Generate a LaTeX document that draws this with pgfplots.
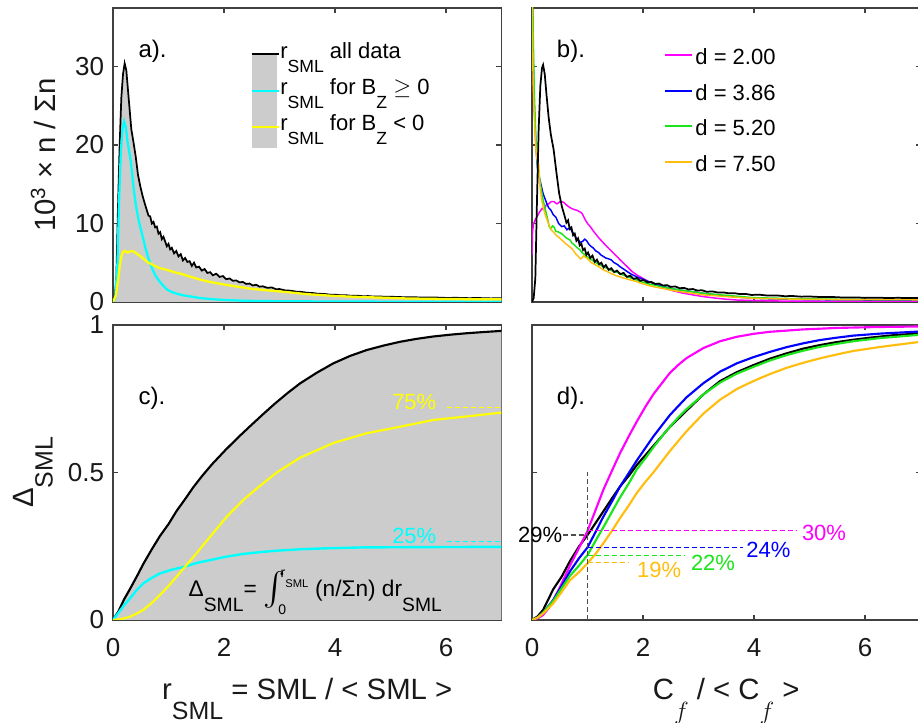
\documentclass[border=0pt]{standalone}
\usepackage{fontspec}
\setmainfont{Liberation Sans}
\usepackage{amsmath}
\usepackage{exscale}
\usepackage{graphicx}
\usepackage{pgfplots}
\usepackage{pgfplotstable}
\pgfplotsset{compat=1.18}

\definecolor{fillgray}{gray}{0.8}
\definecolor{myyellow}{rgb}{1,1,0}
\definecolor{mycyan}{rgb}{0,1,1}
\definecolor{mymag}{rgb}{1,0,1}
\definecolor{myblue}{rgb}{0,0,1}
\definecolor{mygreen}{rgb}{0.1,0.9,0.1}
\definecolor{mygold}{rgb}{1,0.74,0.05}

\newcommand{\fs}[1]{\fontsize{#1}{#1}\selectfont}
\newcommand{\sub}[2][0.75]{\raisebox{-0.66em}{\scalebox{#1}{#2}}}

% ---------- panel a) ----------
\pgfplotstableread{
x y
0 0
0.03 0.5
0.06 3
0.09 12
0.12 20
0.15 26
0.18 29
0.21 30.4
0.24 29.5
0.27 27
0.30 24.5
0.33 22
0.37 20.3
0.41 18.5
0.45 16.2
0.49 14.8
0.53 13.6
0.57 12.6
0.60 11.9
0.64 11.0
0.67 10.9
0.70 10.0
0.73 10.2
0.76 9.5
0.79 9.6
0.82 8.7
0.85 8.9
0.88 8.0
0.91 8.3
0.94 7.7
0.97 7.1
1.00 7.4
1.03 6.7
1.06 6.9
1.10 6.2
1.14 6.5
1.18 5.8
1.22 6.1
1.26 5.3
1.30 5.6
1.34 5.1
1.38 5.2
1.42 4.6
1.46 5.0
1.50 4.4
1.55 4.5
1.60 4.0
1.65 4.2
1.70 3.7
1.75 3.8
1.80 3.4
1.86 3.6
1.92 3.2
1.98 3.3
2.04 2.9
2.10 3.0
2.16 2.7
2.22 2.75
2.28 2.5
2.34 2.55
2.40 2.3
2.46 2.35
2.52 2.1
2.58 2.2
2.64 1.95
2.70 2.0
2.78 1.8
2.86 1.85
2.94 1.62
3.00 1.65
3.1 1.48
3.2 1.44
3.3 1.32
3.4 1.28
3.5 1.17
3.6 1.14
3.7 1.04
3.8 1.03
3.9 0.94
4.0 0.93
4.1 0.86
4.2 0.86
4.3 0.79
4.4 0.8
4.5 0.74
4.6 0.75
4.7 0.69
4.8 0.71
4.9 0.66
5.0 0.67
5.2 0.62
5.4 0.61
5.6 0.56
5.8 0.57
6.0 0.52
6.2 0.53
6.4 0.49
6.6 0.5
6.8 0.46
7.0 0.47
}\blackA

\pgfplotstableread{
x y
0 0
0.04 0.5
0.08 5
0.11 13
0.14 19
0.17 22
0.20 23.0
0.23 22.3
0.26 20.5
0.29 19.2
0.32 18.0
0.35 16.0
0.38 14.0
0.42 12.0
0.46 10.5
0.50 9.3
0.54 8.2
0.58 7.0
0.62 6.0
0.67 4.9
0.72 4.0
0.77 3.3
0.82 2.8
0.90 2.1
0.97 1.6
1.05 1.3
1.15 1.05
1.27 0.85
1.4 0.7
1.57 0.5
1.8 0.35
2.02 0.25
2.4 0.15
3 0.1
4 0.06
5 0.04
7 0.02
}\cyanA

\pgfplotstableread{
x y
0 0
0.05 0.8
0.09 2.8
0.12 4.5
0.15 5.8
0.18 6.4
0.22 6.5
0.26 6.3
0.30 6.4
0.34 6.5
0.38 6.4
0.42 6.2
0.48 5.9
0.55 5.5
0.62 5.1
0.67 4.9
0.75 4.6
0.85 4.3
0.97 4.1
1.1 3.8
1.27 3.5
1.4 3.2
1.57 2.85
1.75 2.55
2.02 2.2
2.25 1.95
2.47 1.7
2.75 1.5
3.07 1.3
3.5 1.0
3.97 0.78
4.4 0.65
4.87 0.55
5.3 0.45
5.77 0.4
6.4 0.36
7.0 0.34
}\yellowA

% ---------- panel b) ----------
\pgfplotstableread{
x y
0 0
0.03 0.5
0.06 3
0.09 13
0.12 22
0.15 27.5
0.18 29.8
0.20 30.2
0.23 29
0.26 26.5
0.30 23.5
0.34 21.3
0.39 19.4
0.44 16.5
0.49 13.8
0.54 12.1
0.59 10.9
0.62 10.1
0.65 10.4
0.68 9.3
0.71 9.5
0.74 8.5
0.77 8.7
0.80 7.8
0.83 8.1
0.86 7.2
0.89 7.4
0.92 6.6
0.95 6.8
0.98 6.0
1.01 6.3
1.05 5.6
1.09 5.9
1.13 5.1
1.17 5.4
1.21 4.8
1.25 5.0
1.29 4.4
1.33 4.7
1.38 4.1
1.43 4.3
1.48 3.8
1.53 4.0
1.59 3.55
1.65 3.7
1.71 3.2
1.77 3.35
1.83 2.95
1.89 3.05
1.95 2.7
2.01 2.8
2.08 2.5
2.15 2.55
2.22 2.3
2.29 2.35
2.36 2.1
2.43 2.15
2.50 1.92
2.58 1.98
2.66 1.75
2.74 1.8
2.82 1.6
2.9 1.65
2.98 1.45
3.06 1.5
3.15 1.3
3.25 1.35
3.35 1.2
3.45 1.22
3.55 1.1
3.65 1.12
3.75 1.0
3.85 1.03
3.95 0.9
4.1 0.92
4.25 0.82
4.4 0.84
4.55 0.74
4.7 0.76
4.85 0.68
5.0 0.7
5.2 0.63
5.4 0.64
5.6 0.57
5.8 0.58
6.0 0.54
6.2 0.55
6.4 0.51
6.6 0.53
6.8 0.5
7.0 0.51
}\blackB

\pgfplotstableread{
x y
0 6
0.01 9
0.03 10
0.06 10.5
0.1 11
0.14 11.5
0.18 11.9
0.22 11.8
0.26 12.4
0.30 12.5
0.35 12.8
0.39 12.8
0.45 12.5
0.51 12.8
0.57 12.7
0.63 12.3
0.69 12.0
0.75 11.8
0.80 11.7
0.86 11.5
0.90 11.3
0.95 10.6
1.0 10.0
1.05 9.6
1.12 8.9
1.2 8.2
1.29 7.5
1.4 6.7
1.5 6.0
1.59 5.35
1.7 4.6
1.8 3.9
1.89 3.44
2.0 3.0
2.1 2.6
2.19 2.38
2.3 2.0
2.4 1.75
2.49 1.53
2.7 1.15
2.9 0.9
3.09 0.68
3.3 0.5
3.5 0.35
3.69 0.25
4 0.18
4.5 0.12
5 0.1
6 0.08
7 0.06
}\magB

\pgfplotstableread{
x y
0 45
0.02 32
0.04 25
0.07 20
0.1 17
0.144 15.5
0.2 13.8
0.264 12.6
0.3 12.0
0.34 11.7
0.385 11.1
0.43 10.8
0.48 10.0
0.535 9.6
0.58 9.7
0.63 9.2
0.685 9.5
0.72 9.0
0.76 8.6
0.8 8.1
0.835 7.9
0.87 7.6
0.91 7.7
0.95 8.0
0.985 7.8
1.02 7.4
1.06 7.1
1.1 6.9
1.15 6.5
1.2 6.3
1.24 6.0
1.285 5.8
1.33 5.6
1.38 5.5
1.43 5.35
1.48 5.0
1.535 4.8
1.585 4.5
1.65 4.2
1.73 3.8
1.8 3.5
1.886 3.2
1.96 3.0
2.03 2.8
2.1 2.6
2.186 2.38
2.26 2.2
2.33 2.05
2.41 1.9
2.486 1.74
2.6 1.6
2.7 1.48
2.8 1.4
2.95 1.25
3.09 1.1
3.3 0.92
3.5 0.75
3.75 0.6
3.99 0.47
4.3 0.4
4.6 0.35
5 0.3
5.5 0.27
6 0.25
6.5 0.23
7 0.22
}\blueB

\pgfplotstableread{
x y
0 50
0.02 35
0.04 27
0.07 21
0.1 17.5
0.144 15.3
0.2 13.0
0.24 11.8
0.28 10.6
0.31 9.6
0.34 9.3
0.37 9.7
0.4 9.5
0.43 9.0
0.48 8.9
0.535 8.7
0.58 8.4
0.63 8.1
0.685 7.9
0.72 7.5
0.76 7.3
0.8 7.0
0.835 6.8
0.87 6.6
0.9 6.3
0.94 6.1
0.985 5.8
1.05 5.5
1.13 5.1
1.2 4.8
1.285 4.5
1.35 4.3
1.43 4.0
1.5 3.85
1.585 3.65
1.65 3.4
1.73 3.2
1.8 3.0
1.886 2.8
1.96 2.6
2.03 2.45
2.1 2.3
2.186 2.17
2.26 2.05
2.33 1.95
2.41 1.85
2.486 1.74
2.6 1.6
2.7 1.5
2.8 1.4
2.95 1.25
3.09 1.1
3.3 0.97
3.5 0.85
3.75 0.7
3.99 0.55
4.3 0.5
4.6 0.45
4.89 0.4
5.2 0.38
5.5 0.35
6 0.32
6.5 0.3
7 0.3
}\greenB

\pgfplotstableread{
x y
0 40
0.02 28
0.05 22
0.08 18.5
0.1 18.0
0.12 17.7
0.144 14.7
0.17 13.2
0.2 12.1
0.23 11.3
0.26 10.7
0.29 10.1
0.32 9.6
0.36 9.1
0.4 8.8
0.45 8.4
0.49 8.2
0.535 7.9
0.58 7.6
0.63 7.3
0.685 7.0
0.72 6.8
0.75 6.5
0.79 6.1
0.835 5.8
0.87 5.5
0.9 5.6
0.93 5.9
0.96 5.7
0.985 5.6
1.03 5.3
1.07 5.0
1.1 4.9
1.15 4.7
1.2 4.5
1.285 4.1
1.35 3.9
1.43 3.6
1.5 3.4
1.585 3.2
1.65 3.05
1.73 2.9
1.8 2.75
1.886 2.6
1.96 2.4
2.03 2.25
2.1 2.1
2.186 1.95
2.26 1.85
2.33 1.75
2.41 1.65
2.486 1.53
2.6 1.4
2.7 1.3
2.8 1.2
2.95 1.05
3.09 0.9
3.3 0.8
3.5 0.68
3.75 0.57
3.99 0.47
4.3 0.42
4.6 0.38
5 0.33
5.5 0.31
6 0.3
6.5 0.29
7 0.28
}\goldB

% ---------- panel c) ----------
\pgfplotstableread{
x y
0 0
0.1 0.03
0.2 0.07
0.306 0.105
0.45 0.155
0.546 0.19
0.7 0.24
0.847 0.285
1.0 0.325
1.147 0.37
1.3 0.41
1.447 0.45
1.6 0.487
1.78 0.527
2.02 0.575
2.25 0.618
2.47 0.657
2.7 0.697
2.92 0.734
3.15 0.77
3.37 0.802
3.67 0.838
3.97 0.870
4.27 0.895
4.57 0.915
4.87 0.930
5.17 0.943
5.47 0.953
5.77 0.961
6.07 0.967
6.37 0.972
6.67 0.976
7.0 0.98
}\blackC

\pgfplotstableread{
x y
0 0
0.1 0.025
0.2 0.05
0.306 0.073
0.42 0.1
0.546 0.124
0.7 0.143
0.847 0.158
1.05 0.17
1.3 0.181
1.5 0.193
1.748 0.203
2.05 0.215
2.348 0.224
2.65 0.23
2.95 0.235
3.4 0.24
3.85 0.243
4.5 0.246
5.5 0.247
7 0.248
}\cyanC

\pgfplotstableread{
x y
0 0
0.15 0.003
0.306 0.011
0.45 0.024
0.546 0.034
0.7 0.058
0.847 0.085
1.0 0.115
1.147 0.147
1.3 0.181
1.5 0.225
1.748 0.282
2.05 0.35
2.348 0.407
2.65 0.455
2.95 0.50
3.37 0.55
3.97 0.60
4.57 0.633
5.17 0.655
5.77 0.678
6.37 0.69
7.0 0.703
}\yellowC

% ---------- panel d) ----------
\pgfplotstableread{
x y
0 0
0.1 0.012
0.2 0.034
0.385 0.105
0.535 0.147
0.685 0.20
0.85 0.25
1.0 0.288
1.15 0.33
1.285 0.368
1.45 0.415
1.585 0.452
1.75 0.49
1.886 0.525
2.05 0.56
2.186 0.59
2.35 0.625
2.486 0.655
2.65 0.685
2.786 0.71
3.09 0.765
3.39 0.81
3.69 0.84
3.99 0.864
4.29 0.886
4.59 0.904
4.89 0.92
5.19 0.932
5.49 0.942
5.79 0.95
6.09 0.957
6.49 0.965
7 0.972
}\blackD

\pgfplotstableread{
x y
0 0
0.1 0.005
0.2 0.017
0.3 0.04
0.385 0.068
0.5 0.11
0.6 0.15
0.685 0.185
0.85 0.245
1.0 0.302
1.15 0.375
1.285 0.441
1.45 0.51
1.585 0.565
1.75 0.625
1.886 0.672
2.05 0.725
2.186 0.765
2.35 0.805
2.486 0.838
2.65 0.867
2.786 0.888
3.09 0.922
3.39 0.945
3.69 0.96
3.99 0.97
4.29 0.977
4.89 0.985
5.49 0.99
6.2 0.993
7 0.995
}\magD

\pgfplotstableread{
x y
0 0
0.1 0.008
0.2 0.025
0.385 0.068
0.535 0.115
0.685 0.165
0.85 0.21
1.0 0.246
1.15 0.3
1.285 0.35
1.45 0.405
1.585 0.452
1.75 0.5
1.886 0.54
2.05 0.585
2.186 0.622
2.35 0.662
2.486 0.695
2.65 0.728
2.786 0.755
3.09 0.803
3.39 0.842
3.69 0.87
3.99 0.891
4.29 0.909
4.59 0.925
4.89 0.938
5.19 0.949
5.49 0.957
5.79 0.964
6.29 0.971
7 0.978
}\blueD

\pgfplotstableread{
x y
0 0
0.1 0.008
0.2 0.025
0.385 0.065
0.535 0.108
0.685 0.15
0.85 0.185
1.0 0.22
1.15 0.27
1.285 0.314
1.45 0.37
1.585 0.415
1.75 0.465
1.886 0.51
2.05 0.55
2.186 0.585
2.35 0.625
2.486 0.655
2.65 0.69
2.786 0.715
3.09 0.765
3.39 0.805
3.69 0.835
3.99 0.858
4.29 0.88
4.59 0.898
4.89 0.913
5.19 0.926
5.49 0.936
5.79 0.945
6.29 0.956
7 0.967
}\greenD

\pgfplotstableread{
x y
0 0
0.1 0.008
0.2 0.022
0.385 0.057
0.535 0.095
0.685 0.135
0.85 0.163
1.0 0.192
1.15 0.225
1.285 0.26
1.45 0.305
1.585 0.345
1.75 0.39
1.886 0.43
2.05 0.47
2.186 0.5
2.35 0.54
2.486 0.573
2.65 0.61
2.786 0.64
3.09 0.70
3.39 0.747
3.69 0.783
3.99 0.81
4.29 0.834
4.59 0.855
4.89 0.872
5.19 0.887
5.49 0.9
5.79 0.912
6.29 0.926
7 0.943
}\goldD

\pgfplotsset{
  panel/.style={
    scale only axis, width=291.375pt,
    xmin=0, xmax=7, xtick={0,2,4,6},
    axis line style={black!75, line width=0.9pt},
    tick style={black!75, line width=0.9pt},
    major tick length=3.75pt,
    tick align=inside,
    tick label style={font=\fs{19.5pt}, text=black!90},
    /pgf/number format/assume math mode=true,
    xticklabel style={yshift=-10.5pt},
    yticklabel style={xshift=-3.2pt, inner ysep=0pt},
    clip mode=individual,
    label style={font=\fs{22pt}, text=black!90},
  },
  dsh/.style={line width=0.8pt, dash pattern=on 3.75pt off 2.25pt},
}

\begin{document}
\begin{tikzpicture}

% ===== a) =====
\begin{axis}[panel, at={(84.75pt,315.75pt)}, height=220.5pt,
  ymin=0, ymax=37.45, ytick={0,10,20,30}, xticklabel=\empty,
  ylabel={10$^{\text{3}}$ × n / Σn},
  ylabel style={at={(axis description cs:-0.149,0.5)}, anchor=base}]
\addplot[fill=fillgray, draw=none] table[x=x,y=y] {\blackA} \closedcycle;
\addplot[black, line width=1.3pt] table[x=x,y=y] {\blackA};
\addplot[mycyan, line width=1.7pt] table[x=x,y=y] {\cyanA};
\addplot[myyellow, line width=1.7pt] table[x=x,y=y] {\yellowA};
\node[anchor=base west, inner sep=0, font=\fs{18pt}] at (axis cs:0.456,31.2) {a).};
\fill[fillgray] (axis cs:2.499,19.58) rectangle (axis cs:2.95,31.68);
\draw[black, line width=1.2pt] (axis cs:2.499,31.6) -- (axis cs:3.0,31.6);
\draw[mycyan, line width=1.7pt] (axis cs:2.499,26.92) -- (axis cs:3.0,26.92);
\draw[myyellow, line width=1.7pt] (axis cs:2.499,22.33) -- (axis cs:3.0,22.33);
\node[anchor=base west, inner sep=0, font=\fs{16.5pt}] at (axis cs:3.01,31.04) {r\sub[0.8]{SML} all data};
\node[anchor=base west, inner sep=0, font=\fs{16.5pt}] at (axis cs:3.01,26.45) {r\sub[0.8]{SML} for B\sub[0.8]{Z} $\geq$ 0};
\node[anchor=base west, inner sep=0, font=\fs{16.5pt}] at (axis cs:3.01,21.87) {r\sub[0.8]{SML} for B\sub[0.8]{Z} < 0};
\end{axis}

% ===== b) =====
\begin{axis}[panel, at={(399pt,315.75pt)}, height=220.5pt,
  ymin=0, ymax=37.45, ytick={0,10,20,30}, xticklabel=\empty, yticklabel=\empty]
\addplot[mymag, line width=1.1pt] table[x=x,y=y] {\magB};
\addplot[myblue, line width=1.1pt] table[x=x,y=y] {\blueB};
\addplot[mygreen, line width=1.1pt] table[x=x,y=y] {\greenB};
\addplot[mygold, line width=1.1pt] table[x=x,y=y] {\goldB};
\addplot[black, line width=1.3pt] table[x=x,y=y] {\blackB};
\node[anchor=base west, inner sep=0, font=\fs{18pt}] at (axis cs:0.445,31.2) {b).};
\addplot[mymag, line width=1.4pt] coordinates {(2.4,31.46) (2.88,31.46)};
\addplot[myblue, line width=1.4pt] coordinates {(2.4,26.92) (2.88,26.92)};
\addplot[mygreen, line width=1.4pt] coordinates {(2.4,22.42) (2.88,22.42)};
\addplot[mygold, line width=1.4pt] coordinates {(2.4,17.87) (2.88,17.87)};
\node[anchor=base west, inner sep=0, font=\fs{16.5pt}] at (axis cs:2.94,30.19) {d = 2.00};
\node[anchor=base west, inner sep=0, font=\fs{16.5pt}] at (axis cs:2.94,25.64) {d = 3.86};
\node[anchor=base west, inner sep=0, font=\fs{16.5pt}] at (axis cs:2.94,21.15) {d = 5.20};
\node[anchor=base west, inner sep=0, font=\fs{16.5pt}] at (axis cs:2.94,16.6) {d = 7.50};
\end{axis}

% ===== c) =====
\begin{axis}[panel, at={(84.75pt,77.25pt)}, height=221.25pt,
  ymin=0, ymax=1, ytick={0,0.5,1},
  xlabel={r\sub[0.85]{SML} = SML / < SML >},
  xlabel style={at={(axis description cs:0.5,-0.271)}, anchor=base},
  ylabel={Δ\sub[0.85]{SML}},
  ylabel style={at={(axis description cs:-0.205,0.5)}, anchor=base}]
\addplot[fill=fillgray, draw=none] table[x=x,y=y] {\blackC} \closedcycle;
\addplot[black, line width=1.6pt] table[x=x,y=y] {\blackC};
\addplot[mycyan, line width=1.8pt] table[x=x,y=y] {\cyanC};
\addplot[myyellow, line width=1.6pt] table[x=x,y=y] {\yellowC};
\addplot[myyellow, dsh] coordinates {(6.01,0.72) (7,0.72)};
\addplot[mycyan, dsh] coordinates {(6.01,0.265) (7,0.265)};
\node[anchor=base west, inner sep=0, font=\fs{18pt}] at (axis cs:0.456,0.729) {c).};
\node[anchor=base east, inner sep=0, font=\fs{16.5pt}, text=myyellow] at (axis cs:5.83,0.712) {75\%};
\node[anchor=base east, inner sep=0, font=\fs{16.5pt}, text=mycyan] at (axis cs:5.83,0.26) {25\%};
\node[anchor=base west, inner sep=0, font=\fs{17pt}] at (axis cs:1.36,0.081)
  {Δ\sub[0.85]{SML}= \raisebox{-0.1em}{\fs{24pt}$\int$}\hspace{-0.3em}\makebox[0pt][l]{\raisebox{-0.82em}{\fs{10.5pt}0}}\hspace{0.1em}\raisebox{0.8em}{\fs{10.5pt}r\sub[0.8]{SML}}\hspace{0.3em}(n/Σn) dr\sub[0.85]{SML}};
\end{axis}

% ===== d) =====
\begin{axis}[panel, at={(399pt,77.25pt)}, height=221.25pt,
  ymin=0, ymax=1, ytick={0,0.5,1}, yticklabel=\empty,
  xlabel={C\sub[0.9]{$f$} / < C\sub[0.9]{$f$} >},
  xlabel style={at={(axis description cs:0.5,-0.271)}, anchor=base}]
\addplot[black, line width=1.6pt] table[x=x,y=y] {\blackD};
\addplot[mymag, line width=1.6pt] table[x=x,y=y] {\magD};
\addplot[myblue, line width=1.6pt] table[x=x,y=y] {\blueD};
\addplot[mygreen, line width=1.6pt] table[x=x,y=y] {\greenD};
\addplot[mygold, line width=1.6pt] table[x=x,y=y] {\goldD};
\addplot[black!70, dsh] coordinates {(1,0) (1,0.5)};
\addplot[black!70, dsh] coordinates {(0.565,0.288) (1,0.288)};
\addplot[mymag, dsh] coordinates {(1,0.303) (4.78,0.303)};
\addplot[myblue, dsh] coordinates {(1,0.245) (3.8,0.245)};
\addplot[mygreen, dsh] coordinates {(1,0.22) (2.76,0.22)};
\addplot[mygold, dsh] coordinates {(1,0.194) (1.74,0.194)};
\node[anchor=base west, inner sep=0, font=\fs{18pt}] at (axis cs:0.445,0.729) {d).};
\node[anchor=east, inner sep=0, font=\fs{16.5pt}] at (axis cs:0.55,0.288) {29\%};
\node[anchor=west, inner sep=0, font=\fs{16.5pt}, text=mymag] at (axis cs:4.86,0.296) {30\%};
\node[anchor=west, inner sep=0, font=\fs{16.5pt}, text=myblue] at (axis cs:3.86,0.239) {24\%};
\node[anchor=west, inner sep=0, font=\fs{16.5pt}, text=mygreen] at (axis cs:2.86,0.195) {22\%};
\node[anchor=west, inner sep=0, font=\fs{16.5pt}, text=mygold] at (axis cs:1.89,0.169) {19\%};
\end{axis}

\pgfresetboundingbox
\useasboundingbox (0,0) rectangle (688.5pt,542.25pt);
\end{tikzpicture}
\end{document}
